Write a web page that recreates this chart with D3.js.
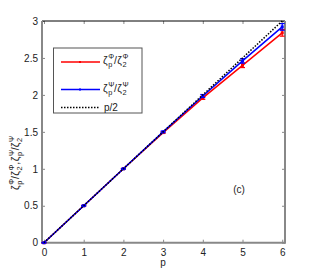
<!DOCTYPE html>
<html>
<head>
<meta charset="utf-8">
<script src="https://cdn.jsdelivr.net/npm/d3@7"></script>
<style>
  body { margin: 0; background: #fff; }
  text { font-family: "Liberation Sans", Arial, sans-serif; fill: #222; }
</style>
</head>
<body>
<div id="chart"></div>
<script>
// daten
const pValues = [0, 1, 2, 3, 4, 5, 6];
const phiRatio = [0, 0.5, 1.0, 1.49, 1.96, 2.40, 2.84];
const phiErr = [0, 0.005, 0.005, 0.01, 0.02, 0.03, 0.045];
const psiRatio = [0, 0.5, 1.0, 1.50, 1.985, 2.46, 2.92];
const psiErr = [0, 0.005, 0.005, 0.01, 0.02, 0.03, 0.045];
const halfP = pValues.map(p => p / 2);
const xTicks = [0, 1, 2, 3, 4, 5, 6];
const yTicks = [0, 0.5, 1, 1.5, 2, 2.5, 3];

const W = 316, H = 273;
const svg = d3.select("#chart").append("svg")
  .attr("width", W)
  .attr("height", H);

const x = d3.scaleLinear().domain([-0.05, 6.07]).range([42, 285]);
const y = d3.scaleLinear().domain([0, 3]).range([242.7, 21]);

// ticks innen
svg.append("g")
  .attr("transform", "translate(0,242.7)")
  .call(d3.axisBottom(x).tickValues(xTicks).tickSize(-3).tickPadding(6).tickFormat(d3.format("d")))
  .call(g => g.select(".domain").remove());
svg.append("g")
  .attr("transform", "translate(0,21)")
  .call(d3.axisTop(x).tickValues(xTicks).tickSize(-3).tickFormat(""))
  .call(g => g.select(".domain").remove());
svg.append("g")
  .attr("transform", "translate(42,0)")
  .call(d3.axisLeft(y).tickValues(yTicks).tickSize(-3).tickPadding(4).tickFormat(d3.format("")))
  .call(g => g.select(".domain").remove());
svg.append("g")
  .attr("transform", "translate(285,0)")
  .call(d3.axisRight(y).tickValues(yTicks).tickSize(-3).tickFormat(""))
  .call(g => g.select(".domain").remove());

svg.selectAll(".tick text").style("font-size", "10px").style("fill", "#222");
svg.selectAll(".tick line").attr("stroke", "#888");

// achsenrahmen
svg.append("line").attr("x1", 42).attr("x2", 285).attr("y1", 21).attr("y2", 21)
  .attr("stroke", "#000").attr("stroke-width", 1);
svg.append("line").attr("x1", 42).attr("x2", 285).attr("y1", 242.7).attr("y2", 242.7)
  .attr("stroke", "#888").attr("stroke-width", 2);
svg.append("line").attr("x1", 42).attr("x2", 42).attr("y1", 21).attr("y2", 243.7)
  .attr("stroke", "#888").attr("stroke-width", 2);
svg.append("line").attr("x1", 285).attr("x2", 285).attr("y1", 21).attr("y2", 243.7)
  .attr("stroke", "#888").attr("stroke-width", 2);

const line = d3.line().x(d => x(d[0])).y(d => y(d[1]));

function drawSeries(vals, errs, color) {
  const pts = pValues.map((p, i) => [p, vals[i], errs[i]]);
  svg.append("path")
    .datum(pts)
    .attr("d", line)
    .attr("fill", "none")
    .attr("stroke", color)
    .attr("stroke-width", 1.5);
  const g = svg.append("g").attr("stroke", color).attr("stroke-width", 1.2);
  pts.forEach(d => {
    const cx = x(d[0]);
    g.append("line").attr("x1", cx).attr("x2", cx)
      .attr("y1", y(d[1] - d[2])).attr("y2", y(d[1] + d[2]));
    g.append("line").attr("x1", cx - 2.5).attr("x2", cx + 2.5)
      .attr("y1", y(d[1] - d[2])).attr("y2", y(d[1] - d[2]));
    g.append("line").attr("x1", cx - 2.5).attr("x2", cx + 2.5)
      .attr("y1", y(d[1] + d[2])).attr("y2", y(d[1] + d[2]));
  });
  svg.append("g").selectAll("rect")
    .data(pts).enter().append("rect")
    .attr("x", d => x(d[0]) - 1.5)
    .attr("y", d => y(d[1]) - 1.5)
    .attr("width", 3).attr("height", 3)
    .attr("fill", color);
}

drawSeries(phiRatio, phiErr, "#f00");
drawSeries(psiRatio, psiErr, "#00f");

svg.append("path")
  .datum(pValues.map((p, i) => [p, halfP[i]]))
  .attr("d", line)
  .attr("fill", "none")
  .attr("stroke", "#000")
  .attr("stroke-width", 1.5)
  .attr("stroke-dasharray", "1.5,1.5");

// zeta mit hoch- und tiefgestellten zeichen
function zeta(g, x0, y0, sub, sup, fs) {
  g.append("text").attr("x", x0).attr("y", y0).style("font-size", fs + "px").text("ζ");
  g.append("text").attr("x", x0 + fs * 0.5).attr("y", y0 - fs * 0.45)
    .style("font-size", (fs * 0.7) + "px").text(sup);
  g.append("text").attr("x", x0 + fs * 0.5).attr("y", y0 + fs * 0.3)
    .style("font-size", (fs * 0.7) + "px").text(sub);
  return x0 + fs * 0.5 + fs * 0.55;
}
function ratioLabel(g, x0, y0, sym, fs) {
  let cx = zeta(g, x0, y0, "p", sym, fs);
  g.append("text").attr("x", cx).attr("y", y0).style("font-size", fs + "px").text("/");
  cx += fs * 0.3;
  return zeta(g, cx, y0, "2", sym, fs);
}

// legende
const leg = svg.append("g");
leg.append("rect").attr("x", 53.5).attr("y", 48).attr("width", 88.5).attr("height", 65)
  .attr("fill", "#fff").attr("stroke", "#555").attr("stroke-width", 1);
leg.append("line").attr("x1", 61).attr("x2", 100).attr("y1", 62).attr("y2", 62)
  .attr("stroke", "#f00").attr("stroke-width", 1.5);
leg.append("rect").attr("x", 79).attr("y", 61).attr("width", 2).attr("height", 2).attr("fill", "#f00");
leg.append("line").attr("x1", 61).attr("x2", 100).attr("y1", 89.5).attr("y2", 89.5)
  .attr("stroke", "#00f").attr("stroke-width", 1.5);
leg.append("rect").attr("x", 79).attr("y", 88.5).attr("width", 2).attr("height", 2).attr("fill", "#00f");
leg.append("line").attr("x1", 61).attr("x2", 100).attr("y1", 107.5).attr("y2", 107.5)
  .attr("stroke", "#000").attr("stroke-width", 1.5).attr("stroke-dasharray", "1.5,1.5");
ratioLabel(leg, 103, 64, "Φ", 10.5);
ratioLabel(leg, 103, 92, "Ψ", 10.5);
leg.append("text").attr("x", 104).attr("y", 111).style("font-size", "10px").text("p/2");

// y-beschriftung
const yl = svg.append("g").attr("transform", "translate(19,190) rotate(-90)");
let cx = ratioLabel(yl, 0, 0, "Φ", 10.5);
yl.append("text").attr("x", cx).attr("y", 0).style("font-size", "10.5px").text(",");
ratioLabel(yl, cx + 3.5, 0, "Ψ", 10.5);

// x-beschriftung
svg.append("text").attr("x", 163).attr("y", 266).attr("text-anchor", "middle")
  .style("font-size", "10px").text("p");

svg.append("text").attr("x", 239).attr("y", 193).attr("text-anchor", "middle")
  .style("font-size", "10px").text("(c)");
</script>
</body>
</html>
